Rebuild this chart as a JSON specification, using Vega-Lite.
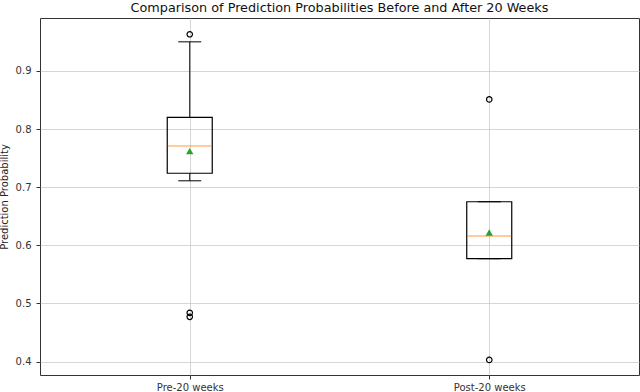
{
  "$schema": "https://vega.github.io/schema/vega-lite/v6.json",
  "width": 599,
  "height": 357,
  "autosize": "none",
  "padding": {"left": 40, "top": 18, "right": 1, "bottom": 17},
  "background": "white",
  "title": {
    "text": "Comparison of Prediction Probabilities Before and After 20 Weeks",
    "font": "DejaVu Sans",
    "fontSize": 12.8,
    "fontWeight": "normal",
    "color": "#111111",
    "offset": 3
  },
  "config": {
    "view": {"stroke": "#333333", "strokeWidth": 1},
    "axis": {
      "labelFont": "DejaVu Sans",
      "labelFontSize": 10,
      "labelColor": "#333333",
      "titleFont": "DejaVu Sans",
      "titleFontSize": 10,
      "titleFontWeight": "normal",
      "titleColor": "#222222",
      "tickColor": "#333333",
      "tickSize": 4,
      "labelPadding": 3,
      "domain": false,
      "gridColor": "#cccccc",
      "gridWidth": 0.8
    }
  },
  "datasets": {
    "stats": [
      {"group": "Pre-20 weeks", "lower": 0.711, "q1": 0.724, "median": 0.771, "q3": 0.82, "upper": 0.95, "mean": 0.762},
      {"group": "Post-20 weeks", "lower": 0.577, "q1": 0.577, "median": 0.616, "q3": 0.675, "upper": 0.675, "mean": 0.622}
    ],
    "outliers": [
      {"group": "Pre-20 weeks", "value": 0.963},
      {"group": "Pre-20 weeks", "value": 0.484},
      {"group": "Pre-20 weeks", "value": 0.477},
      {"group": "Post-20 weeks", "value": 0.851},
      {"group": "Post-20 weeks", "value": 0.403}
    ]
  },
  "encoding": {
    "x": {
      "field": "group",
      "type": "nominal",
      "sort": ["Pre-20 weeks", "Post-20 weeks"],
      "scale": {"type": "point", "padding": 0.5},
      "axis": {"title": null, "labelAngle": 0, "grid": true}
    }
  },
  "layer": [
    {
      "data": {"name": "stats"},
      "mark": {"type": "rule", "color": "#000000", "strokeWidth": 1},
      "encoding": {
        "y": {
          "field": "lower",
          "type": "quantitative",
          "scale": {"domain": [0.377, 0.991], "nice": false, "zero": false},
          "axis": {"title": "Prediction Probability", "values": [0.4, 0.5, 0.6, 0.7, 0.8, 0.9], "format": ".1f", "grid": true, "titlePadding": 6, "labelPadding": 5}
        },
        "y2": {"field": "q1"}
      }
    },
    {
      "data": {"name": "stats"},
      "mark": {"type": "rule", "color": "#000000", "strokeWidth": 1},
      "encoding": {
        "y": {"field": "q3", "type": "quantitative"},
        "y2": {"field": "upper"}
      }
    },
    {
      "data": {"name": "stats"},
      "mark": {"type": "bar", "size": 45, "fill": null, "fillOpacity": 0, "stroke": "#000000", "strokeWidth": 1.2},
      "encoding": {
        "y": {"field": "q1", "type": "quantitative"},
        "y2": {"field": "q3"}
      }
    },
    {
      "data": {"name": "stats"},
      "mark": {"type": "tick", "size": 23, "thickness": 1, "color": "#000000", "opacity": 1},
      "encoding": {"y": {"field": "lower", "type": "quantitative"}}
    },
    {
      "data": {"name": "stats"},
      "mark": {"type": "tick", "size": 23, "thickness": 1, "color": "#000000", "opacity": 1},
      "encoding": {"y": {"field": "upper", "type": "quantitative"}}
    },
    {
      "data": {"name": "stats"},
      "mark": {"type": "tick", "size": 44, "thickness": 1, "color": "#ff7f0e", "opacity": 0.8},
      "encoding": {"y": {"field": "median", "type": "quantitative"}}
    },
    {
      "data": {"name": "stats"},
      "mark": {"type": "point", "shape": "triangle-up", "filled": true, "size": 55, "color": "#2ca02c", "opacity": 1},
      "encoding": {"y": {"field": "mean", "type": "quantitative"}}
    },
    {
      "data": {"name": "outliers"},
      "mark": {"type": "point", "shape": "circle", "filled": false, "size": 30, "color": "#000000", "strokeWidth": 1.2, "opacity": 1},
      "encoding": {"y": {"field": "value", "type": "quantitative"}}
    }
  ]
}
